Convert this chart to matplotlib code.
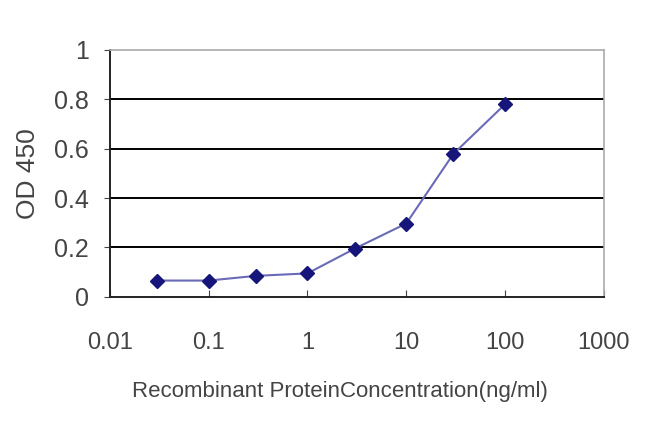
import matplotlib
matplotlib.use("Agg")
import matplotlib.pyplot as plt

# Data
concentration = [0.03, 0.1, 0.3, 1, 3, 10, 30, 100]
od450 = [0.066, 0.066, 0.085, 0.095, 0.195, 0.297, 0.579, 0.78]
x_ticks = [0.01, 0.1, 1, 10, 100, 1000]
x_tick_labels = ["0.01", "0.1", "1", "10", "100", "1000"]
y_ticks = [0, 0.2, 0.4, 0.6, 0.8, 1]
y_tick_labels = ["0", "0.2", "0.4", "0.6", "0.8", "1"]

plt.rcParams['font.family'] = ['Liberation Sans', 'DejaVu Sans']

fig = plt.figure(figsize=(6.5, 4.34), dpi=100)
ax = fig.add_axes([0.169, 0.316, 0.76, 0.569])

ax.set_xscale('log')
ax.set_xlim(0.01, 1000)
ax.set_ylim(0, 1)

# black horizontal gridlines
for y in y_ticks[1:-1]:
    ax.axhline(y, color='black', lw=1.4, zorder=1)

ax.plot(concentration, od450, color='#6a6ab8', lw=1.5, zorder=2)
ax.plot(concentration, od450, ls='none', marker='D', ms=7.5,
        color='#15157a', zorder=3)

ax.set_xticks(x_ticks)
ax.set_xticklabels(x_tick_labels)
ax.minorticks_off()
ax.set_yticks(y_ticks)
ax.set_yticklabels(y_tick_labels)
ax.tick_params(axis='x', direction='in', length=5, pad=25, labelsize=17, colors='#444444')
ax.tick_params(axis='y', direction='out', length=4, pad=11, labelsize=18, colors='#444444')

for side in ['left', 'bottom']:
    ax.spines[side].set_color('#222222')
    ax.spines[side].set_linewidth(1.4)
for side in ['top', 'right']:
    ax.spines[side].set_color('#aaaaaa')
    ax.spines[side].set_linewidth(1.2)

ax.set_xlabel("Recombinant ProteinConcentration(ng/ml)", fontsize=16,
              color='#444444')
ax.xaxis.set_label_coords(0.466, -0.34)
ax.set_ylabel("OD 450", fontsize=19, color='#444444', labelpad=10)

fig.savefig("out.png", dpi=100)
